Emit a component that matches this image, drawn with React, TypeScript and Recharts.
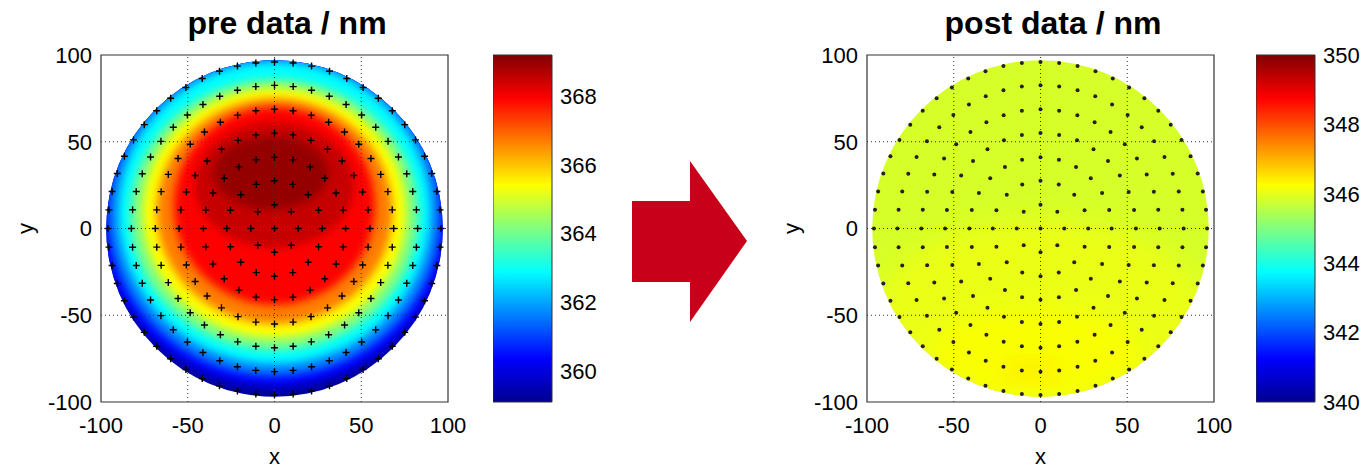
import {
  ScatterChart,
  ComposedChart,
  Scatter,
  XAxis,
  YAxis,
  ReferenceArea,
  ReferenceLine,
  Label,
} from "recharts";

// measurement sites: concentric rings (radius in mm, number of sites)
const ringRadii = [0, 13.7, 27.5, 41, 55, 68.7, 82.5, 96];
const ringCounts = [1, 8, 16, 24, 32, 40, 48, 56];

const axisTicks = [-100, -50, 0, 50, 100];
const gridTicks = [-50, 0, 50];
const waferRadius = 97;

// pre map: thickness bands (nm) with centre / half axes in mm
const preEdge = 359.4;
const preValues = [360.4, 361.6, 362.9, 364.15, 365.4, 366.7, 367.9, 368.5, 369.0];
const preCx = [0, 0, 0, 0, 0, 0, 0, 0, -2];
const preCy = [5, 8, 9, 8, 9, 10, 13, 25, 32];
const preRx = [100, 96, 90, 83, 76, 68, 58, 46, 33];
const preRy = [96, 93, 87, 78, 72, 65, 57, 36, 21];
const preRange = [359.1, 369.2];
const preBarTicks = [360, 362, 364, 366, 368];

// post map
const postEdge = 345.85;
const postValues = [346.05, 346.2, 346.45];
const postCx = [0, -3, -5];
const postCy = [-50, -72, -82];
const postRx = [95, 60, 18];
const postRy = [55, 25, 6];
const postRange = [340, 350];
const postBarTicks = [340, 342, 344, 346, 348, 350];

const FONT = "'Liberation Sans', Arial, sans-serif";

const sites = ringRadii.flatMap((r, i) =>
  Array.from({ length: ringCounts[i] }, (_, k) => {
    const a = Math.PI / 2 + (2 * Math.PI * k) / ringCounts[i];
    return { x: r * Math.cos(a), y: r * Math.sin(a) };
  })
);

const clamp = (v: number) => Math.max(0, Math.min(1, v));
const jet = (v: number, range: number[]) => {
  const t = clamp((v - range[0]) / (range[1] - range[0]));
  const c = (x: number) => Math.round(255 * clamp(x));
  return `rgb(${c(Math.min(4 * t - 1.5, -4 * t + 4.5))},${c(
    Math.min(4 * t - 0.5, -4 * t + 3.5)
  )},${c(Math.min(4 * t + 0.5, -4 * t + 2.5))})`;
};

const box = (p: any) => ({
  cx: p.x + p.width / 2,
  cy: p.y + p.height / 2,
  rx: Math.abs(p.width) / 2,
  ry: Math.abs(p.height) / 2,
});

const discShape = (fill: string, clip: string) => (p: any) => {
  const b = box(p);
  return (
    <g>
      <defs>
        <clipPath id={clip}>
          <ellipse {...b} />
        </clipPath>
      </defs>
      <ellipse {...b} fill={fill} />
    </g>
  );
};

const bandShape = (fill: string, clip: string, blur: string) => (p: any) => (
  <ellipse {...box(p)} fill={fill} clipPath={`url(#${clip})`} filter={`url(#${blur})`} />
);

const plusMarker = (p: any) => (
  <path
    d={`M${p.cx - 3.5},${p.cy}h7M${p.cx},${p.cy - 3.5}v7`}
    stroke="#000"
    strokeWidth={1.4}
  />
);

const dotMarker = (p: any) => <circle cx={p.cx} cy={p.cy} r={2} fill="#222" />;

const tickStyle = { fill: "#000", fontSize: 22, fontFamily: FONT };

type MapProps = {
  id: string;
  blur: string;
  left: number;
  edge: number;
  values: number[];
  cxs: number[];
  cys: number[];
  rxs: number[];
  rys: number[];
  range: number[];
  marker: (p: any) => any;
};

const WaferMap = ({ id, blur, left, edge, values, cxs, cys, rxs, rys, range, marker }: MapProps) => (
  <div style={{ position: "absolute", left, top: 0 }}>
    <ScatterChart
      width={478}
      height={468}
      margin={{ top: 55, right: 30, bottom: 0, left: 0 }}
      style={{ fontFamily: FONT }}
    >
      <XAxis
        type="number"
        dataKey="x"
        domain={[-100, 100]}
        ticks={axisTicks}
        interval={0}
        allowDataOverflow
        axisLine={false}
        tickLine={false}
        tickSize={0}
        tickMargin={15}
        height={66}
        tick={tickStyle}
      >
        <Label value="x" position="insideBottom" offset={4} style={{ fontSize: 22, fill: "#000" }} />
      </XAxis>
      <YAxis
        type="number"
        dataKey="y"
        domain={[-100, 100]}
        ticks={axisTicks}
        interval={0}
        allowDataOverflow
        axisLine={false}
        tickLine={false}
        tickSize={0}
        tickMargin={9}
        width={101}
        tick={tickStyle}
      >
        <Label
          content={(p: any) =>
            p.viewBox ? (
              <text
                x={p.viewBox.x + 25}
                y={p.viewBox.y + p.viewBox.height / 2}
                transform={`rotate(-90 ${p.viewBox.x + 25} ${p.viewBox.y + p.viewBox.height / 2})`}
                textAnchor="middle"
                dominantBaseline="central"
                fontSize={22}
                fill="#000"
              >
                y
              </text>
            ) : null
          }
        />
      </YAxis>
      <ReferenceArea
        x1={-waferRadius}
        x2={waferRadius}
        y1={-waferRadius}
        y2={waferRadius}
        ifOverflow="visible"
        shape={discShape(jet(edge, range), id)}
      />
      {values.map((v, i) => (
        <ReferenceArea
          key={i}
          x1={cxs[i] - rxs[i]}
          x2={cxs[i] + rxs[i]}
          y1={cys[i] - rys[i]}
          y2={cys[i] + rys[i]}
          ifOverflow="visible"
          shape={bandShape(jet(v, range), id, blur)}
        />
      ))}
      {gridTicks.map((t) => (
        <ReferenceLine key={"x" + t} x={t} stroke="#333" strokeDasharray="1 3" />
      ))}
      {gridTicks.map((t) => (
        <ReferenceLine key={"y" + t} y={t} stroke="#333" strokeDasharray="1 3" />
      ))}
      <ReferenceArea
        x1={-100}
        x2={100}
        y1={-100}
        y2={100}
        fill="none"
        stroke="#333"
        strokeWidth={1.2}
      />
      <Scatter data={sites} shape={marker} isAnimationActive={false} />
    </ScatterChart>
  </div>
);

const ColorBar = ({ left, width, range, ticks }: { left: number; width: number; range: number[]; ticks: number[] }) => (
  <div style={{ position: "absolute", left, top: 0 }}>
    <ComposedChart
      width={width}
      height={468}
      margin={{ top: 55, right: 0, bottom: 66, left: 0 }}
      data={[{ x: 0 }, { x: 1 }]}
      style={{ fontFamily: FONT }}
    >
      <XAxis type="number" dataKey="x" domain={[0, 1]} hide />
      <YAxis
        type="number"
        orientation="right"
        domain={range}
        ticks={ticks}
        interval={0}
        allowDataOverflow
        axisLine={false}
        tickLine={false}
        tickSize={0}
        tickMargin={8}
        width={width - 59}
        tick={tickStyle}
      />
      <ReferenceArea
        x1={0}
        x2={1}
        y1={range[0]}
        y2={range[1]}
        ifOverflow="visible"
        fill="url(#jetBar)"
        fillOpacity={1}
        stroke="#333"
      />
    </ComposedChart>
  </div>
);

export default function App() {
  return (
    <div style={{ position: "relative", width: 1365, height: 468, background: "#fff", overflow: "hidden" }}>
      <style>{"body{margin:0}"}</style>
      <svg width={0} height={0} style={{ position: "absolute" }}>
        <defs>
          <linearGradient id="jetBar" x1="0" y1="1" x2="0" y2="0">
            <stop offset="0" stopColor="#000090" />
            <stop offset="0.125" stopColor="#0000ff" />
            <stop offset="0.375" stopColor="#00ffff" />
            <stop offset="0.625" stopColor="#ffff00" />
            <stop offset="0.875" stopColor="#ff0000" />
            <stop offset="1" stopColor="#800000" />
          </linearGradient>
          <filter id="softPre" x="-20%" y="-20%" width="140%" height="140%">
            <feGaussianBlur stdDeviation="4" />
          </filter>
          <filter id="softPost" x="-30%" y="-30%" width="160%" height="160%">
            <feGaussianBlur stdDeviation="12" />
          </filter>
        </defs>
      </svg>
      <WaferMap
        id="preDisc"
        blur="softPre"
        left={0}
        edge={preEdge}
        values={preValues}
        cxs={preCx}
        cys={preCy}
        rxs={preRx}
        rys={preRy}
        range={preRange}
        marker={plusMarker}
      />
      <ColorBar left={493} width={110} range={preRange} ticks={preBarTicks} />
      <WaferMap
        id="postDisc"
        blur="softPost"
        left={766}
        edge={postEdge}
        values={postValues}
        cxs={postCx}
        cys={postCy}
        rxs={postRx}
        rys={postRy}
        range={postRange}
        marker={dotMarker}
      />
      <ColorBar left={1256} width={109} range={postRange} ticks={postBarTicks} />
      <svg
        width={1365}
        height={468}
        style={{ position: "absolute", left: 0, top: 0, pointerEvents: "none" }}
        fontFamily={FONT}
      >
        <text x={287} y={34} textAnchor="middle" fontSize={32} fontWeight="bold" fill="#000">
          pre data / nm
        </text>
        <text x={1053} y={34} textAnchor="middle" fontSize={32} fontWeight="bold" fill="#000">
          post data / nm
        </text>
        <polygon points="632,201 690,201 690,161 747,241 690,322 690,282 632,282" fill="#c8001a" />
      </svg>
    </div>
  );
}
